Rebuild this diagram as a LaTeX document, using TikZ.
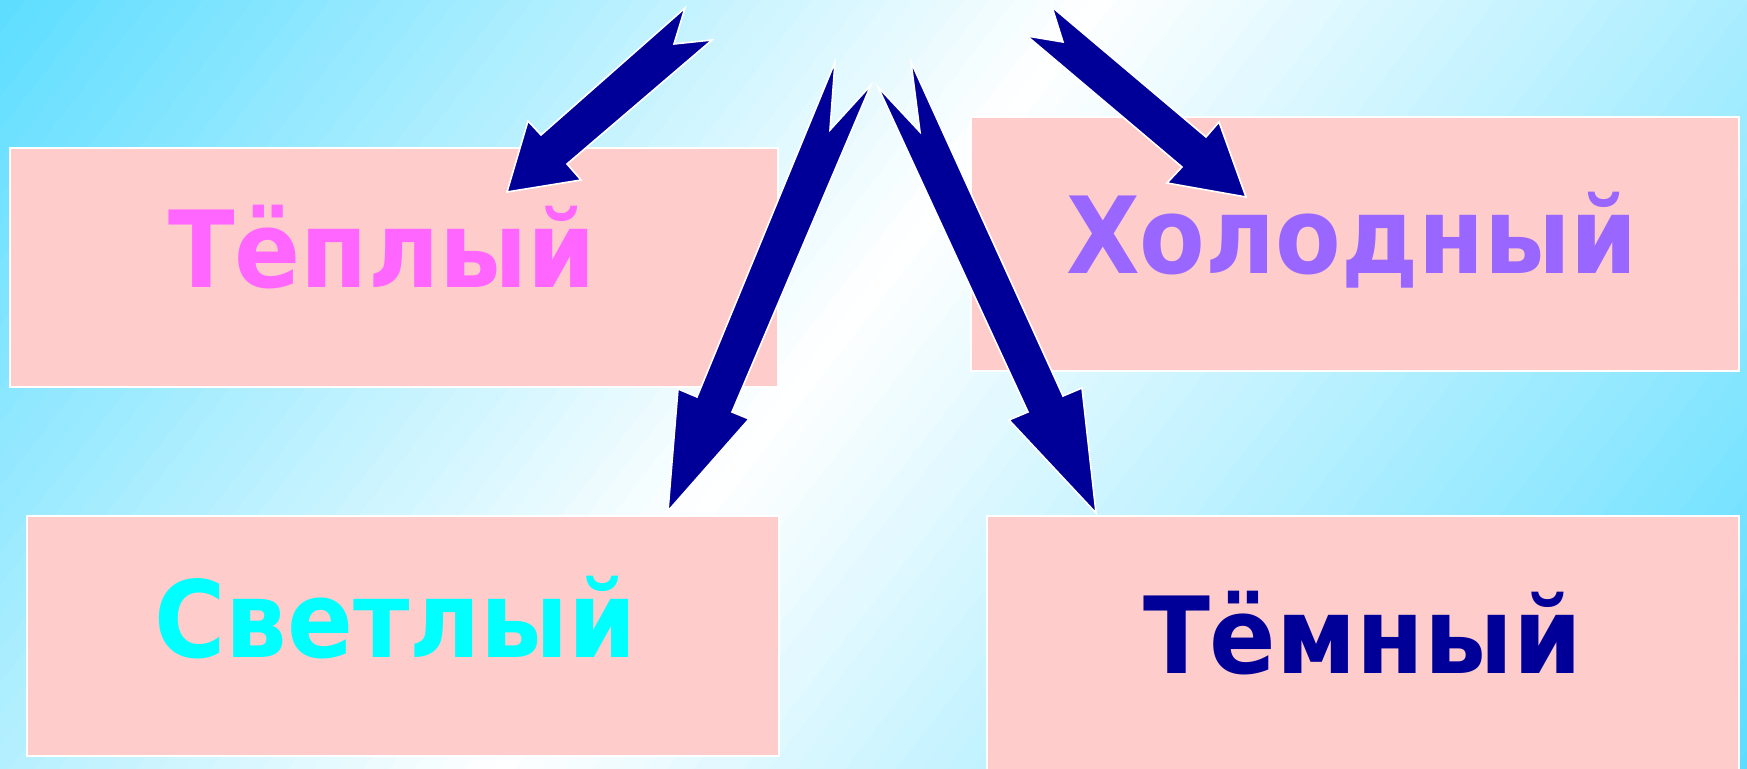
\documentclass[tikz,border=0pt]{standalone}
\usepackage{fontspec}
\setmainfont{DejaVu Sans}
\usepackage{graphicx}
\definecolor{bgcy}{RGB}{92,221,255}
\definecolor{boxpink}{RGB}{255,204,204}
\definecolor{arrowblue}{RGB}{0,0,153}
\definecolor{warmc}{RGB}{255,102,255}
\definecolor{coldc}{RGB}{153,102,255}
\definecolor{lightc}{RGB}{0,255,255}
\definecolor{darkc}{RGB}{0,0,153}
\newdimen\fitlen
\newcommand\fitw[2]{\settowidth\fitlen{#2}\pgfmathsetmacro\fitsx{(#1)*0.5/\fitlen}\scalebox{\fitsx}[1]{#2}}
\begin{document}
\begin{tikzpicture}[x=0.5pt,y=-0.5pt,
  box/.style={draw=white, line width=1pt, fill=boxpink, inner sep=0pt},
  word/.style={inner sep=0pt, anchor=base, font=\fontsize{53.2}{60}\selectfont\bfseries},
  blockarrow/.style={fill=arrowblue, draw=white, line width=0.8pt, line join=miter}]
\useasboundingbox (0,0) rectangle (1747,769);
% background gradient
\begin{scope}
\clip (0,0) rectangle (1747,769);
\fill[bgcy] (0,0) rectangle (1747,769);
\foreach \i in {0,...,92}{
  \pgfmathsetmacro\ta{\i*20}
  \pgfmathsetmacro\tb{\ta+21}
  \pgfmathsetmacro\tm{\ta+10}
  \pgfmathsetmacro\pc{\tm<867 ? (867-\tm)/867*100 : min(100,(\tm-867)/983*100)}
  \fill[bgcy!\pc!white]
    (\ta*0.788+1537.5, \ta*0.615-1970) -- (\ta*0.788-1537.5, \ta*0.615+1970)
    -- (\tb*0.788-1537.5, \tb*0.615+1970) -- (\tb*0.788+1537.5, \tb*0.615-1970) -- cycle;
}
\end{scope}
% boxes
\node[box, minimum width=384pt, minimum height=119.5pt] (warm) at (394,267.5) {};
\node[box, minimum width=384pt, minimum height=127pt] (cold) at (1355,244) {};
\node[box, minimum width=376pt, minimum height=120pt] (light) at (403,636) {};
\node[box, minimum width=376pt, minimum height=142pt] (dark) at (1363,658) {};
% words
\node[word, text=warmc] (twarm) at (382,288) {\fitw{428}{Тёплый}};
\node[word, text=coldc] (tcold) at (1352,274) {\fitw{572}{Холодный}};
\node[word, text=lightc] (tlight) at (395.5,658) {\fitw{483}{Светлый}};
\node[word, text=darkc] (tdark) at (1362.5,674) {\fitw{439}{Тёмный}};
% block arrows
\draw[blockarrow] (507,192) -- (528,121) -- (541,135) -- (685,8) -- (674,44) -- (712,40) -- (567,164) -- (581,180) -- cycle;
\draw[blockarrow] (668,511) -- (678,389) -- (697,397) -- (835,62) -- (830,130) -- (871,85) -- (732,412) -- (749,419) -- cycle;
\draw[blockarrow] (1096,513) -- (1009,420) -- (1028,412) -- (878,87) -- (920,132) -- (911,62) -- (1063,396) -- (1082,388) -- cycle;
\draw[blockarrow] (1246,197) -- (1219,122) -- (1206,137) -- (1052,7) -- (1063,42) -- (1027,36) -- (1182,167) -- (1167,183) -- cycle;
\end{tikzpicture}
\end{document}
